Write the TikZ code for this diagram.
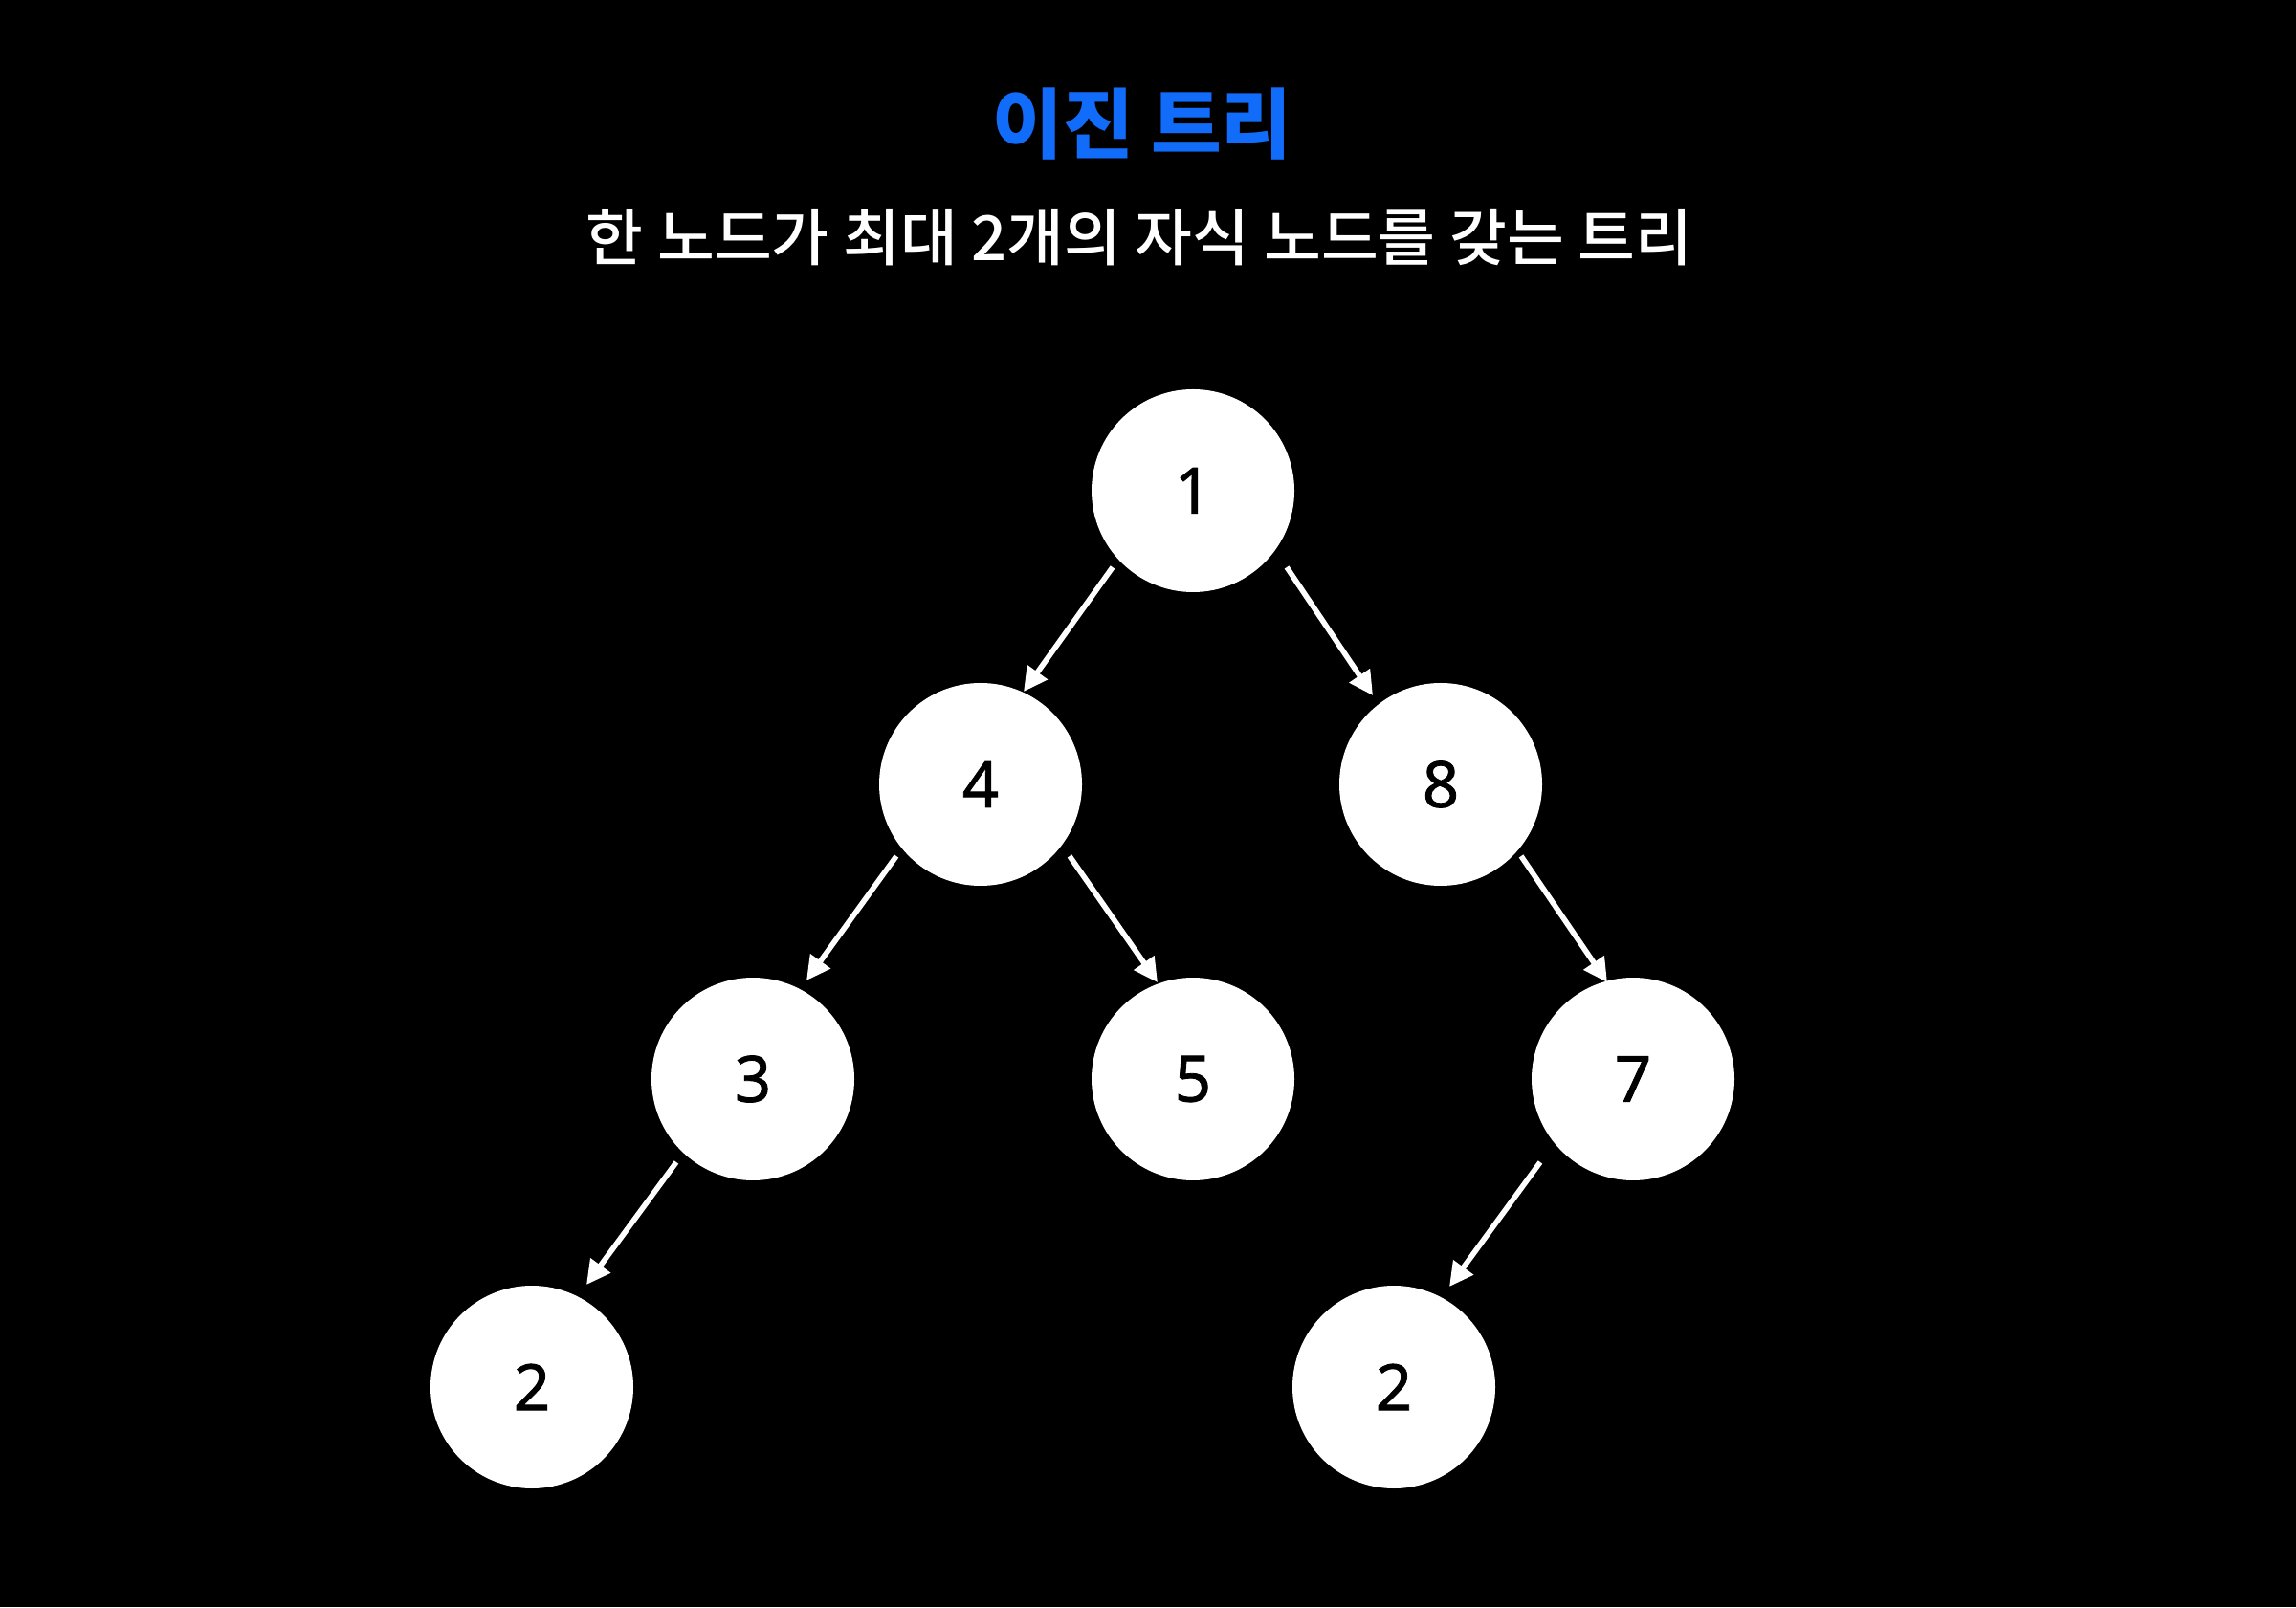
\documentclass[tikz,border=0pt]{standalone}
\usepackage{fontspec}
\newfontfamily\krfont{Noto Sans CJK KR}
\newfontfamily\krmedium{Noto Sans CJK KR Medium}
\newfontfamily\digitfont{Noto Sans}[FakeBold=1.2]
\usepackage{tikz}
\usetikzlibrary{arrows.meta}
\definecolor{titleblue}{RGB}{18, 108, 250}

\begin{document}
\begin{tikzpicture}[
    vertex/.style={circle, fill=white, minimum size=2.12cm, inner sep=0pt,
                   font=\digitfont\fontsize{19}{23}\selectfont, text=black},
    edge/.style={-{Triangle[length=2.5mm, width=2.5mm]}, white, line width=1.6pt}
  ]
    \fill[black] (0,0) rectangle (24,16.8);
    \useasboundingbox (0,0) rectangle (24,16.8);

    % titles
    \node[text=titleblue, font=\krfont\bfseries\fontsize{22.8}{27}\selectfont] (title) at (11.94,15.5) {이진 트리};
    \node[text=white, font=\krmedium\fontsize{18.5}{22}\selectfont] (subtitle) at (11.91,14.32) {한 노드가 최대 2개의 자식 노드를 갖는 트리};

    % tree nodes
    \node[vertex] (n1) at (12.47,11.67) {1};
    \node[vertex] (n4) at (10.25,8.60) {4};
    \node[vertex] (n8) at (15.06,8.60) {8};
    \node[vertex] (n3) at (7.87,5.52) {3};
    \node[vertex] (n5) at (12.47,5.52) {5};
    \node[vertex] (n7) at (17.07,5.52) {7};
    \node[vertex] (n2a) at (5.56,2.30) {2};
    \node[vertex] (n2b) at (14.57,2.30) {2};

    % parent -> child
    \draw[edge] ([shift={(-0.84,-0.80)}]n1.center) -- ([shift={(0.45,0.97)}]n4.center);
    \draw[edge] ([shift={(0.98,-0.80)}]n1.center) -- ([shift={(-0.71,0.93)}]n8.center);
    \draw[edge] ([shift={(-0.88,-0.75)}]n4.center) -- ([shift={(0.56,1.03)}]n3.center);
    \draw[edge] ([shift={(0.93,-0.75)}]n4.center) -- ([shift={(-0.37,1.01)}]n5.center);
    \draw[edge] ([shift={(0.84,-0.75)}]n8.center) -- ([shift={(-0.27,1.01)}]n7.center);
    \draw[edge] ([shift={(-0.80,-0.87)}]n3.center) -- ([shift={(0.57,1.07)}]n2a.center);
    \draw[edge] ([shift={(-0.97,-0.87)}]n7.center) -- ([shift={(0.58,1.05)}]n2b.center);
\end{tikzpicture}
\end{document}
